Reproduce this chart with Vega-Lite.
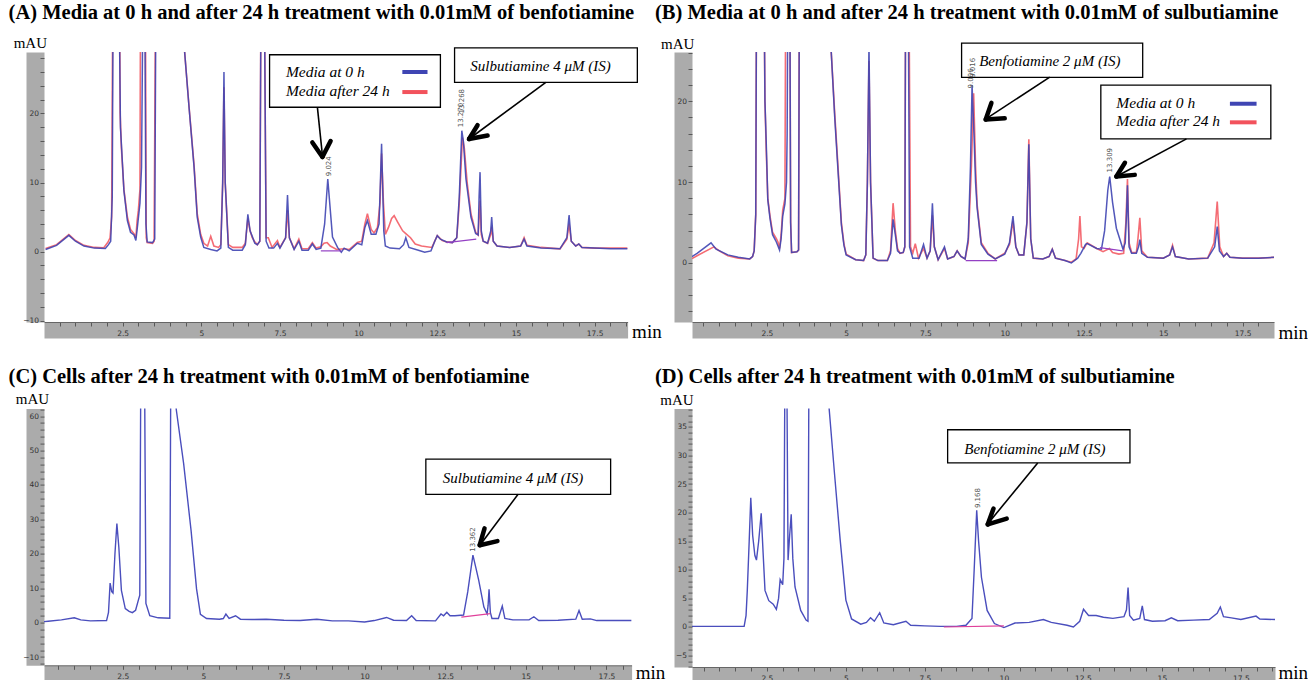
{
"$schema": "https://vega.github.io/schema/vega-lite/v6.json",
"background": "white",
"padding": {"left": 8, "top": 3, "right": 0, "bottom": 0},
"autosize": {"type": "pad"},
"columns": 2,
"bounds": "flush",
"spacing": {"row": 86.6, "column": 60},
"config": {
  "view": {"stroke": null},
  "font": "Liberation Serif",
  "title": {"font": "Liberation Serif", "fontSize": 20.5, "fontWeight": "bold", "anchor": "start", "frame": "group", "color": "#000", "baseline": "alphabetic"},
  "axis": {"labelFont": "DejaVu Sans", "labelFontSize": 7.5, "labelColor": "#333", "tickColor": "#444", "tickWidth": 0.8, "grid": false, "labelOverlap": false, "labelFlush": false, "titleFont": "Liberation Serif", "titleFontWeight": "normal", "titleColor": "#000", "titleAngle": 0, "titleAlign": "left", "titleBaseline": "alphabetic", "titlePadding": 0},
  "axisX": {"titleFontSize": 19, "format": ".1~f", "labelExpr": "datum.value % 2.5 === 0 ? datum.label : ''"},
  "axisY": {"titleFontSize": 15, "format": "d"}
},
"datasets": {
"A": [
{"s":"0h","t":0.05,"v":0.3},{"s":"0h","t":0.4,"v":0.9},{"s":"0h","t":0.79,"v":2.35},{"s":"0h","t":1.0,"v":1.5},{"s":"0h","t":1.27,"v":0.8},{"s":"0h","t":1.6,"v":0.5},{"s":"0h","t":1.95,"v":0.45},{"s":"0h","t":2.05,"v":1.0},{"s":"0h","t":2.12,"v":1.5},{"s":"0h","t":2.17,"v":8},{"s":"0h","t":2.2,"v":40},{"s":"0h","t":2.38,"v":40},{"s":"0h","t":2.43,"v":18},{"s":"0h","t":2.46,"v":15.6},{"s":"0h","t":2.54,"v":8.8},{"s":"0h","t":2.65,"v":4.5},{"s":"0h","t":2.75,"v":2.8},{"s":"0h","t":2.86,"v":2.4},{"s":"0h","t":2.92,"v":1.6},{"s":"0h","t":2.98,"v":4},{"s":"0h","t":3.05,"v":7},{"s":"0h","t":3.1,"v":12.2},{"s":"0h","t":3.15,"v":40},{"s":"0h","t":3.2,"v":40},{"s":"0h","t":3.24,"v":4},{"s":"0h","t":3.28,"v":1.4},{"s":"0h","t":3.45,"v":1.3},{"s":"0h","t":3.52,"v":1.8},{"s":"0h","t":3.56,"v":40},{"s":"0h","t":4.45,"v":40},{"s":"0h","t":4.47,"v":28.9},{"s":"0h","t":4.61,"v":20.9},{"s":"0h","t":4.77,"v":12.2},{"s":"0h","t":4.87,"v":5.0},{"s":"0h","t":4.98,"v":2.1},{"s":"0h","t":5.08,"v":0.6},{"s":"0h","t":5.3,"v":0.3},{"s":"0h","t":5.5,"v":0.1},{"s":"0h","t":5.62,"v":0.5},{"s":"0h","t":5.68,"v":10},{"s":"0h","t":5.72,"v":26},{"s":"0h","t":5.76,"v":10},{"s":"0h","t":5.86,"v":0.6},{"s":"0h","t":6.0,"v":0.2},{"s":"0h","t":6.3,"v":0.2},{"s":"0h","t":6.4,"v":1},{"s":"0h","t":6.48,"v":5.4},{"s":"0h","t":6.55,"v":3},{"s":"0h","t":6.62,"v":2.2},{"s":"0h","t":6.7,"v":1.2},{"s":"0h","t":6.78,"v":1.0},{"s":"0h","t":6.86,"v":1.5},{"s":"0h","t":6.9,"v":40},{"s":"0h","t":7.0,"v":40},{"s":"0h","t":7.06,"v":1.5},{"s":"0h","t":7.15,"v":0.5},{"s":"0h","t":7.3,"v":0.5},{"s":"0h","t":7.42,"v":1.2},{"s":"0h","t":7.5,"v":0.5},{"s":"0h","t":7.68,"v":2},{"s":"0h","t":7.74,"v":8.2},{"s":"0h","t":7.8,"v":2},{"s":"0h","t":7.95,"v":0.3},{"s":"0h","t":8.1,"v":1.5},{"s":"0h","t":8.2,"v":0.2},{"s":"0h","t":8.4,"v":0.2},{"s":"0h","t":8.53,"v":1.1},{"s":"0h","t":8.65,"v":0.3},{"s":"0h","t":8.8,"v":0.5},{"s":"0h","t":8.92,"v":4},{"s":"0h","t":9.02,"v":10.5},{"s":"0h","t":9.1,"v":6},{"s":"0h","t":9.17,"v":2.1},{"s":"0h","t":9.33,"v":0.6},{"s":"0h","t":9.45,"v":-0.1},{"s":"0h","t":9.54,"v":0.5},{"s":"0h","t":9.7,"v":0.1},{"s":"0h","t":9.96,"v":1.2},{"s":"0h","t":10.1,"v":1},{"s":"0h","t":10.2,"v":3.5},{"s":"0h","t":10.28,"v":4.5},{"s":"0h","t":10.4,"v":2.5},{"s":"0h","t":10.55,"v":2.5},{"s":"0h","t":10.65,"v":4},{"s":"0h","t":10.73,"v":15.6},{"s":"0h","t":10.8,"v":3},{"s":"0h","t":10.85,"v":0.8},{"s":"0h","t":11.0,"v":0.5},{"s":"0h","t":11.3,"v":0.4},{"s":"0h","t":11.43,"v":1.0},{"s":"0h","t":11.5,"v":2.0},{"s":"0h","t":11.6,"v":0.6},{"s":"0h","t":11.9,"v":0.2},{"s":"0h","t":12.1,"v":-0.1},{"s":"0h","t":12.3,"v":0.1},{"s":"0h","t":12.42,"v":1.5},{"s":"0h","t":12.5,"v":2.3},{"s":"0h","t":12.6,"v":1.8},{"s":"0h","t":12.8,"v":1.4},{"s":"0h","t":12.98,"v":1.3},{"s":"0h","t":13.12,"v":2},{"s":"0h","t":13.2,"v":8},{"s":"0h","t":13.28,"v":17.5},{"s":"0h","t":13.33,"v":16},{"s":"0h","t":13.41,"v":10.6},{"s":"0h","t":13.57,"v":5.0},{"s":"0h","t":13.72,"v":2.6},{"s":"0h","t":13.8,"v":2.4},{"s":"0h","t":13.83,"v":8},{"s":"0h","t":13.86,"v":11.5},{"s":"0h","t":13.9,"v":3},{"s":"0h","t":13.96,"v":1.5},{"s":"0h","t":14.1,"v":1.2},{"s":"0h","t":14.2,"v":3},{"s":"0h","t":14.23,"v":5.0},{"s":"0h","t":14.28,"v":1.5},{"s":"0h","t":14.4,"v":0.8},{"s":"0h","t":14.8,"v":0.6},{"s":"0h","t":15.15,"v":0.8},{"s":"0h","t":15.26,"v":1.8},{"s":"0h","t":15.35,"v":0.8},{"s":"0h","t":15.8,"v":0.5},{"s":"0h","t":16.4,"v":0.4},{"s":"0h","t":16.62,"v":2},{"s":"0h","t":16.69,"v":5.3},{"s":"0h","t":16.76,"v":1.5},{"s":"0h","t":16.9,"v":0.8},{"s":"0h","t":17.0,"v":1.1},{"s":"0h","t":17.1,"v":0.6},{"s":"0h","t":17.5,"v":0.5},{"s":"0h","t":18.0,"v":0.4},{"s":"0h","t":18.55,"v":0.4},
{"s":"24h","t":0.05,"v":0.45},{"s":"24h","t":0.4,"v":1.0},{"s":"24h","t":0.79,"v":2.45},{"s":"24h","t":1.0,"v":1.6},{"s":"24h","t":1.27,"v":0.9},{"s":"24h","t":1.6,"v":0.6},{"s":"24h","t":1.9,"v":0.55},{"s":"24h","t":2.03,"v":1.35},{"s":"24h","t":2.1,"v":2},{"s":"24h","t":2.15,"v":5},{"s":"24h","t":2.19,"v":40},{"s":"24h","t":2.4,"v":40},{"s":"24h","t":2.42,"v":20},{"s":"24h","t":2.46,"v":15},{"s":"24h","t":2.54,"v":9},{"s":"24h","t":2.65,"v":5},{"s":"24h","t":2.75,"v":3.2},{"s":"24h","t":2.86,"v":2.6},{"s":"24h","t":2.92,"v":2.0},{"s":"24h","t":2.96,"v":4.5},{"s":"24h","t":3.0,"v":6},{"s":"24h","t":3.05,"v":9},{"s":"24h","t":3.07,"v":40},{"s":"24h","t":3.22,"v":40},{"s":"24h","t":3.25,"v":2},{"s":"24h","t":3.28,"v":1.3},{"s":"24h","t":3.45,"v":1.2},{"s":"24h","t":3.5,"v":1.5},{"s":"24h","t":3.55,"v":40},{"s":"24h","t":4.45,"v":40},{"s":"24h","t":4.47,"v":28.9},{"s":"24h","t":4.61,"v":21},{"s":"24h","t":4.77,"v":12.5},{"s":"24h","t":4.87,"v":5.5},{"s":"24h","t":4.98,"v":2.5},{"s":"24h","t":5.08,"v":1.2},{"s":"24h","t":5.2,"v":0.8},{"s":"24h","t":5.3,"v":2.2},{"s":"24h","t":5.4,"v":0.8},{"s":"24h","t":5.55,"v":0.6},{"s":"24h","t":5.62,"v":1},{"s":"24h","t":5.68,"v":10},{"s":"24h","t":5.72,"v":23.8},{"s":"24h","t":5.76,"v":10},{"s":"24h","t":5.86,"v":1},{"s":"24h","t":6.0,"v":0.6},{"s":"24h","t":6.3,"v":0.6},{"s":"24h","t":6.4,"v":1.2},{"s":"24h","t":6.48,"v":4.8},{"s":"24h","t":6.55,"v":3},{"s":"24h","t":6.62,"v":2},{"s":"24h","t":6.7,"v":1.4},{"s":"24h","t":6.78,"v":1},{"s":"24h","t":6.86,"v":1.5},{"s":"24h","t":6.9,"v":40},{"s":"24h","t":7.0,"v":40},{"s":"24h","t":7.06,"v":2},{"s":"24h","t":7.13,"v":2.0},{"s":"24h","t":7.25,"v":0.6},{"s":"24h","t":7.42,"v":1.6},{"s":"24h","t":7.5,"v":0.6},{"s":"24h","t":7.68,"v":2},{"s":"24h","t":7.74,"v":6},{"s":"24h","t":7.8,"v":2},{"s":"24h","t":7.95,"v":0.4},{"s":"24h","t":8.1,"v":1.8},{"s":"24h","t":8.2,"v":0.4},{"s":"24h","t":8.4,"v":0.4},{"s":"24h","t":8.53,"v":1.3},{"s":"24h","t":8.65,"v":0.5},{"s":"24h","t":8.8,"v":0.7},{"s":"24h","t":8.9,"v":1.2},{"s":"24h","t":9.0,"v":1.3},{"s":"24h","t":9.1,"v":0.8},{"s":"24h","t":9.3,"v":0.3},{"s":"24h","t":9.54,"v":0.4},{"s":"24h","t":9.7,"v":0.3},{"s":"24h","t":9.96,"v":1.3},{"s":"24h","t":10.1,"v":1.5},{"s":"24h","t":10.2,"v":4},{"s":"24h","t":10.28,"v":5.5},{"s":"24h","t":10.4,"v":3.2},{"s":"24h","t":10.49,"v":2.7},{"s":"24h","t":10.6,"v":3.5},{"s":"24h","t":10.68,"v":7},{"s":"24h","t":10.73,"v":14.2},{"s":"24h","t":10.79,"v":7},{"s":"24h","t":10.85,"v":2.5},{"s":"24h","t":10.95,"v":3.5},{"s":"24h","t":11.05,"v":4.8},{"s":"24h","t":11.13,"v":5.2},{"s":"24h","t":11.25,"v":4.2},{"s":"24h","t":11.4,"v":3.0},{"s":"24h","t":11.5,"v":2.6},{"s":"24h","t":11.65,"v":2.0},{"s":"24h","t":11.8,"v":1.1},{"s":"24h","t":12.0,"v":0.8},{"s":"24h","t":12.33,"v":0.6},{"s":"24h","t":12.45,"v":1.8},{"s":"24h","t":12.5,"v":2.3},{"s":"24h","t":12.66,"v":1.6},{"s":"24h","t":12.8,"v":1.4},{"s":"24h","t":12.98,"v":1.3},{"s":"24h","t":13.12,"v":2},{"s":"24h","t":13.2,"v":7},{"s":"24h","t":13.3,"v":16.5},{"s":"24h","t":13.36,"v":15},{"s":"24h","t":13.45,"v":10},{"s":"24h","t":13.57,"v":5.5},{"s":"24h","t":13.72,"v":2.8},{"s":"24h","t":13.8,"v":2.4},{"s":"24h","t":13.83,"v":5},{"s":"24h","t":13.86,"v":7.4},{"s":"24h","t":13.9,"v":2.5},{"s":"24h","t":13.96,"v":1.5},{"s":"24h","t":14.1,"v":1.2},{"s":"24h","t":14.2,"v":2.5},{"s":"24h","t":14.23,"v":3.6},{"s":"24h","t":14.28,"v":1.5},{"s":"24h","t":14.4,"v":0.8},{"s":"24h","t":14.8,"v":0.6},{"s":"24h","t":15.15,"v":0.8},{"s":"24h","t":15.26,"v":2.0},{"s":"24h","t":15.35,"v":0.9},{"s":"24h","t":15.8,"v":0.6},{"s":"24h","t":16.4,"v":0.4},{"s":"24h","t":16.62,"v":1.8},{"s":"24h","t":16.69,"v":4.0},{"s":"24h","t":16.76,"v":1.5},{"s":"24h","t":16.9,"v":0.8},{"s":"24h","t":17.0,"v":1.1},{"s":"24h","t":17.1,"v":0.6},{"s":"24h","t":17.5,"v":0.5},{"s":"24h","t":18.0,"v":0.5},{"s":"24h","t":18.55,"v":0.5}
],
"An": [
{"k":"box","t":7.17,"t2":12.6,"v":28.5,"v2":20.9},
{"k":"box","t":13.05,"t2":18.86,"v":29.5,"v2":24.5},
{"k":"btext","t":15.78,"v":26.1,"label":"Sulbutiamine 4 μM (IS)"},
{"k":"ltext","t":7.69,"v":25.25,"label":"Media at 0 h"},
{"k":"ltext","t":7.69,"v":22.6,"label":"Media after 24 h"},
{"k":"samp","s":"0h","t":11.39,"t2":12.19,"v":26.0,"v2":26.0},
{"k":"samp","s":"24h","t":11.39,"t2":12.19,"v":23.1,"v2":23.1},
{"k":"shaft","t":8.69,"v":20.9,"t2":8.85,"v2":13.9},
{"k":"head","t":8.85,"v":13.7,"t2":8.53,"v2":15.8},
{"k":"head","t":8.85,"v":13.7,"t2":9.11,"v2":16.0},
{"k":"shaft","t":15.95,"v":24.5,"t2":13.51,"v2":16.3},
{"k":"head","t":13.51,"v":16.3,"t2":13.78,"v2":18.3},
{"k":"head","t":13.51,"v":16.3,"t2":14.1,"v2":16.8},
{"k":"peak","t":9.05,"v":10.9,"label":"9.024"},
{"k":"peak","t":13.24,"v":18.0,"label":"13.270"},
{"k":"peak","t":13.3,"v":20.0,"label":"13.268"},
{"k":"base","t":8.8,"v":0.1,"t2":9.45,"v2":0.1},
{"k":"base","t":12.8,"v":1.3,"t2":13.74,"v2":1.8}
],
"B": [
{"s":"0h","t":0.14,"v":0.8},{"s":"0h","t":0.3,"v":1.2},{"s":"0h","t":0.74,"v":2.5},{"s":"0h","t":0.9,"v":1.7},{"s":"0h","t":1.27,"v":1.0},{"s":"0h","t":1.6,"v":0.7},{"s":"0h","t":1.96,"v":0.5},{"s":"0h","t":2.05,"v":0.8},{"s":"0h","t":2.1,"v":1.5},{"s":"0h","t":2.15,"v":6},{"s":"0h","t":2.18,"v":40},{"s":"0h","t":2.4,"v":40},{"s":"0h","t":2.44,"v":20},{"s":"0h","t":2.48,"v":15},{"s":"0h","t":2.53,"v":7.8},{"s":"0h","t":2.6,"v":5.5},{"s":"0h","t":2.68,"v":3.5},{"s":"0h","t":2.8,"v":2.6},{"s":"0h","t":2.85,"v":2.1},{"s":"0h","t":2.9,"v":1.6},{"s":"0h","t":2.95,"v":3},{"s":"0h","t":3.0,"v":5.8},{"s":"0h","t":3.07,"v":7.3},{"s":"0h","t":3.12,"v":10},{"s":"0h","t":3.14,"v":16},{"s":"0h","t":3.17,"v":40},{"s":"0h","t":3.22,"v":40},{"s":"0h","t":3.25,"v":5},{"s":"0h","t":3.28,"v":1.3},{"s":"0h","t":3.45,"v":1.4},{"s":"0h","t":3.5,"v":1.6},{"s":"0h","t":3.53,"v":40},{"s":"0h","t":4.5,"v":40},{"s":"0h","t":4.53,"v":26.1},{"s":"0h","t":4.64,"v":18},{"s":"0h","t":4.75,"v":11},{"s":"0h","t":4.85,"v":4.7},{"s":"0h","t":4.93,"v":2.2},{"s":"0h","t":5.0,"v":1.0},{"s":"0h","t":5.3,"v":0.4},{"s":"0h","t":5.55,"v":0.3},{"s":"0h","t":5.62,"v":1},{"s":"0h","t":5.67,"v":10},{"s":"0h","t":5.72,"v":27},{"s":"0h","t":5.77,"v":10},{"s":"0h","t":5.85,"v":0.6},{"s":"0h","t":6.0,"v":0.3},{"s":"0h","t":6.3,"v":0.3},{"s":"0h","t":6.4,"v":1.2},{"s":"0h","t":6.48,"v":5.4},{"s":"0h","t":6.55,"v":3.5},{"s":"0h","t":6.62,"v":1.5},{"s":"0h","t":6.7,"v":1.2},{"s":"0h","t":6.8,"v":1.3},{"s":"0h","t":6.85,"v":2},{"s":"0h","t":6.88,"v":40},{"s":"0h","t":6.95,"v":40},{"s":"0h","t":7.0,"v":2},{"s":"0h","t":7.1,"v":0.6},{"s":"0h","t":7.3,"v":0.6},{"s":"0h","t":7.44,"v":2.3},{"s":"0h","t":7.55,"v":0.6},{"s":"0h","t":7.65,"v":1.5},{"s":"0h","t":7.72,"v":7.4},{"s":"0h","t":7.78,"v":2},{"s":"0h","t":7.9,"v":0.4},{"s":"0h","t":8.1,"v":2.0},{"s":"0h","t":8.2,"v":0.5},{"s":"0h","t":8.4,"v":0.8},{"s":"0h","t":8.5,"v":1.5},{"s":"0h","t":8.62,"v":0.8},{"s":"0h","t":8.75,"v":0.5},{"s":"0h","t":8.85,"v":3},{"s":"0h","t":8.92,"v":12},{"s":"0h","t":8.97,"v":22},{"s":"0h","t":9.03,"v":16},{"s":"0h","t":9.08,"v":10},{"s":"0h","t":9.13,"v":6.8},{"s":"0h","t":9.26,"v":2.3},{"s":"0h","t":9.47,"v":1.1},{"s":"0h","t":9.7,"v":0.5},{"s":"0h","t":10.0,"v":1.1},{"s":"0h","t":10.15,"v":2.5},{"s":"0h","t":10.26,"v":5.8},{"s":"0h","t":10.35,"v":2},{"s":"0h","t":10.45,"v":1.0},{"s":"0h","t":10.6,"v":1.0},{"s":"0h","t":10.7,"v":5},{"s":"0h","t":10.76,"v":14.7},{"s":"0h","t":10.82,"v":3},{"s":"0h","t":10.9,"v":0.6},{"s":"0h","t":11.2,"v":0.5},{"s":"0h","t":11.4,"v":0.8},{"s":"0h","t":11.5,"v":1.7},{"s":"0h","t":11.6,"v":0.6},{"s":"0h","t":11.9,"v":0.3},{"s":"0h","t":12.1,"v":0.0},{"s":"0h","t":12.3,"v":0.6},{"s":"0h","t":12.4,"v":1.2},{"s":"0h","t":12.55,"v":2.3},{"s":"0h","t":12.6,"v":2.4},{"s":"0h","t":12.9,"v":1.8},{"s":"0h","t":13.05,"v":1.7},{"s":"0h","t":13.15,"v":4},{"s":"0h","t":13.25,"v":9},{"s":"0h","t":13.31,"v":10.7},{"s":"0h","t":13.4,"v":7.5},{"s":"0h","t":13.52,"v":4.3},{"s":"0h","t":13.73,"v":1.7},{"s":"0h","t":13.8,"v":2.5},{"s":"0h","t":13.84,"v":6},{"s":"0h","t":13.87,"v":9.6},{"s":"0h","t":13.92,"v":2},{"s":"0h","t":14.0,"v":1.2},{"s":"0h","t":14.15,"v":1.2},{"s":"0h","t":14.22,"v":2},{"s":"0h","t":14.26,"v":2.9},{"s":"0h","t":14.32,"v":1.2},{"s":"0h","t":14.5,"v":0.7},{"s":"0h","t":15.0,"v":0.6},{"s":"0h","t":15.2,"v":1},{"s":"0h","t":15.29,"v":2.0},{"s":"0h","t":15.38,"v":0.8},{"s":"0h","t":15.8,"v":0.5},{"s":"0h","t":16.4,"v":0.6},{"s":"0h","t":16.62,"v":2},{"s":"0h","t":16.7,"v":4.5},{"s":"0h","t":16.77,"v":1.5},{"s":"0h","t":16.9,"v":0.8},{"s":"0h","t":17.0,"v":1.2},{"s":"0h","t":17.1,"v":0.7},{"s":"0h","t":17.5,"v":0.6},{"s":"0h","t":18.0,"v":0.6},{"s":"0h","t":18.49,"v":0.7},
{"s":"24h","t":0.14,"v":0.55},{"s":"24h","t":0.3,"v":0.9},{"s":"24h","t":0.83,"v":2.0},{"s":"24h","t":1.0,"v":1.5},{"s":"24h","t":1.27,"v":0.9},{"s":"24h","t":1.6,"v":0.6},{"s":"24h","t":1.96,"v":0.5},{"s":"24h","t":2.05,"v":0.8},{"s":"24h","t":2.1,"v":1.5},{"s":"24h","t":2.15,"v":6},{"s":"24h","t":2.18,"v":40},{"s":"24h","t":2.4,"v":40},{"s":"24h","t":2.44,"v":20},{"s":"24h","t":2.48,"v":14},{"s":"24h","t":2.53,"v":8},{"s":"24h","t":2.6,"v":5.8},{"s":"24h","t":2.68,"v":3.8},{"s":"24h","t":2.8,"v":3.0},{"s":"24h","t":2.85,"v":2.6},{"s":"24h","t":2.9,"v":1.8},{"s":"24h","t":2.95,"v":3.5},{"s":"24h","t":3.0,"v":6.5},{"s":"24h","t":3.07,"v":8},{"s":"24h","t":3.1,"v":40},{"s":"24h","t":3.22,"v":40},{"s":"24h","t":3.25,"v":5},{"s":"24h","t":3.28,"v":1.3},{"s":"24h","t":3.45,"v":1.4},{"s":"24h","t":3.5,"v":1.6},{"s":"24h","t":3.53,"v":40},{"s":"24h","t":4.5,"v":40},{"s":"24h","t":4.53,"v":26.1},{"s":"24h","t":4.64,"v":18.5},{"s":"24h","t":4.75,"v":11.5},{"s":"24h","t":4.85,"v":5},{"s":"24h","t":4.93,"v":2.4},{"s":"24h","t":5.0,"v":1.1},{"s":"24h","t":5.3,"v":0.4},{"s":"24h","t":5.55,"v":0.3},{"s":"24h","t":5.62,"v":1},{"s":"24h","t":5.67,"v":10},{"s":"24h","t":5.72,"v":25},{"s":"24h","t":5.77,"v":10},{"s":"24h","t":5.85,"v":0.6},{"s":"24h","t":6.0,"v":0.3},{"s":"24h","t":6.3,"v":0.3},{"s":"24h","t":6.4,"v":1.5},{"s":"24h","t":6.48,"v":7.4},{"s":"24h","t":6.55,"v":4},{"s":"24h","t":6.62,"v":1.8},{"s":"24h","t":6.7,"v":1.2},{"s":"24h","t":6.8,"v":1.3},{"s":"24h","t":6.85,"v":2},{"s":"24h","t":6.88,"v":40},{"s":"24h","t":6.97,"v":40},{"s":"24h","t":7.03,"v":2},{"s":"24h","t":7.1,"v":1.2},{"s":"24h","t":7.18,"v":2.4},{"s":"24h","t":7.28,"v":0.6},{"s":"24h","t":7.44,"v":1.8},{"s":"24h","t":7.55,"v":0.6},{"s":"24h","t":7.65,"v":1.5},{"s":"24h","t":7.72,"v":5.9},{"s":"24h","t":7.78,"v":2},{"s":"24h","t":7.9,"v":0.4},{"s":"24h","t":8.1,"v":1.8},{"s":"24h","t":8.2,"v":0.5},{"s":"24h","t":8.4,"v":0.8},{"s":"24h","t":8.5,"v":1.5},{"s":"24h","t":8.62,"v":0.8},{"s":"24h","t":8.75,"v":0.5},{"s":"24h","t":8.85,"v":2.5},{"s":"24h","t":8.95,"v":12},{"s":"24h","t":9.02,"v":21},{"s":"24h","t":9.08,"v":12},{"s":"24h","t":9.13,"v":7.2},{"s":"24h","t":9.26,"v":2.5},{"s":"24h","t":9.47,"v":1.2},{"s":"24h","t":9.7,"v":0.5},{"s":"24h","t":10.0,"v":1.2},{"s":"24h","t":10.15,"v":2.3},{"s":"24h","t":10.26,"v":5.2},{"s":"24h","t":10.35,"v":2},{"s":"24h","t":10.45,"v":1.0},{"s":"24h","t":10.6,"v":1.0},{"s":"24h","t":10.7,"v":5},{"s":"24h","t":10.76,"v":15.3},{"s":"24h","t":10.82,"v":3},{"s":"24h","t":10.9,"v":0.6},{"s":"24h","t":11.2,"v":0.5},{"s":"24h","t":11.4,"v":0.8},{"s":"24h","t":11.5,"v":1.7},{"s":"24h","t":11.6,"v":0.6},{"s":"24h","t":11.9,"v":0.3},{"s":"24h","t":12.1,"v":0.1},{"s":"24h","t":12.25,"v":0.5},{"s":"24h","t":12.33,"v":3},{"s":"24h","t":12.37,"v":5.8},{"s":"24h","t":12.42,"v":2},{"s":"24h","t":12.5,"v":1.8},{"s":"24h","t":12.6,"v":2.5},{"s":"24h","t":12.9,"v":1.8},{"s":"24h","t":13.1,"v":1.4},{"s":"24h","t":13.3,"v":1.8},{"s":"24h","t":13.4,"v":1.3},{"s":"24h","t":13.6,"v":1.1},{"s":"24h","t":13.75,"v":1.2},{"s":"24h","t":13.82,"v":5},{"s":"24h","t":13.87,"v":10.4},{"s":"24h","t":13.92,"v":2.5},{"s":"24h","t":14.0,"v":1.3},{"s":"24h","t":14.15,"v":1.3},{"s":"24h","t":14.2,"v":3},{"s":"24h","t":14.26,"v":5.6},{"s":"24h","t":14.32,"v":1.5},{"s":"24h","t":14.5,"v":0.7},{"s":"24h","t":15.0,"v":0.6},{"s":"24h","t":15.2,"v":1},{"s":"24h","t":15.29,"v":2.2},{"s":"24h","t":15.38,"v":0.8},{"s":"24h","t":15.8,"v":0.5},{"s":"24h","t":16.4,"v":0.6},{"s":"24h","t":16.6,"v":2.5},{"s":"24h","t":16.7,"v":7.6},{"s":"24h","t":16.78,"v":2},{"s":"24h","t":16.9,"v":0.8},{"s":"24h","t":17.0,"v":1.2},{"s":"24h","t":17.1,"v":0.7},{"s":"24h","t":17.5,"v":0.6},{"s":"24h","t":18.0,"v":0.6},{"s":"24h","t":18.49,"v":0.7}
],
"Bn": [
{"k":"box","t":8.64,"t2":14.35,"v":27.2,"v2":22.97},
{"k":"btext","t":11.42,"v":24.35,"label":"Benfotiamine 2 μM (IS)"},
{"k":"box","t":13.03,"t2":18.39,"v":22.0,"v2":15.35},
{"k":"ltext","t":13.52,"v":19.2,"label":"Media at 0 h"},
{"k":"ltext","t":13.52,"v":17.0,"label":"Media after 24 h"},
{"k":"samp","s":"0h","t":17.1,"t2":17.94,"v":19.7,"v2":19.7},
{"k":"samp","s":"24h","t":17.1,"t2":17.94,"v":17.4,"v2":17.4},
{"k":"shaft","t":11.42,"v":23.0,"t2":9.42,"v2":17.85},
{"k":"head","t":9.4,"v":17.75,"t2":9.58,"v2":19.8},
{"k":"head","t":9.4,"v":17.75,"t2":10.0,"v2":17.9},
{"k":"shaft","t":15.73,"v":15.35,"t2":13.52,"v2":10.7},
{"k":"head","t":13.52,"v":10.7,"t2":13.79,"v2":12.4},
{"k":"head","t":13.52,"v":10.7,"t2":14.1,"v2":10.9},
{"k":"peak","t":8.95,"v":21.6,"label":"9.006"},
{"k":"peak","t":8.99,"v":22.9,"label":"9.016"},
{"k":"peak","t":13.32,"v":11.2,"label":"13.309"},
{"k":"base","t":8.77,"v":0.3,"t2":9.76,"v2":0.3},
{"k":"base","t":13.0,"v":1.9,"t2":13.72,"v2":1.5}
],
"C": [
{"t":0.06,"v":0.3},{"t":0.19,"v":0.4},{"t":0.6,"v":0.8},{"t":1.0,"v":1.4},{"t":1.2,"v":0.8},{"t":1.5,"v":0.5},{"t":2.0,"v":0.6},{"t":2.06,"v":3},{"t":2.11,"v":11.5},{"t":2.16,"v":9},{"t":2.2,"v":8.6},{"t":2.26,"v":20},{"t":2.32,"v":28.8},{"t":2.38,"v":22},{"t":2.46,"v":9.4},{"t":2.58,"v":4.1},{"t":2.7,"v":3.3},{"t":2.8,"v":2.9},{"t":2.9,"v":3.6},{"t":2.99,"v":6.7},{"t":3.03,"v":8},{"t":3.06,"v":70},{"t":3.18,"v":70},{"t":3.22,"v":5.6},{"t":3.34,"v":2.0},{"t":3.6,"v":1.4},{"t":3.96,"v":1.3},{"t":3.99,"v":70},{"t":4.14,"v":70},{"t":4.16,"v":62},{"t":4.39,"v":46.2},{"t":4.62,"v":26.8},{"t":4.79,"v":9.8},{"t":4.91,"v":2.4},{"t":5.1,"v":1.2},{"t":5.5,"v":1.0},{"t":5.62,"v":1.2},{"t":5.7,"v":2.5},{"t":5.8,"v":1.2},{"t":6.0,"v":2.0},{"t":6.15,"v":1.0},{"t":6.5,"v":0.9},{"t":6.95,"v":1.0},{"t":7.5,"v":0.7},{"t":8.0,"v":0.6},{"t":8.52,"v":1.0},{"t":9.0,"v":0.5},{"t":9.5,"v":0.5},{"t":10.0,"v":0.2},{"t":10.3,"v":0.6},{"t":10.68,"v":1.5},{"t":10.9,"v":0.7},{"t":11.3,"v":0.6},{"t":11.46,"v":2.0},{"t":11.6,"v":0.6},{"t":12.2,"v":0.5},{"t":12.37,"v":2.5},{"t":12.45,"v":2.0},{"t":12.55,"v":3.0},{"t":12.65,"v":2.0},{"t":12.8,"v":2.0},{"t":13.07,"v":2.2},{"t":13.2,"v":9},{"t":13.36,"v":19.6},{"t":13.45,"v":16},{"t":13.54,"v":12.3},{"t":13.7,"v":4.5},{"t":13.8,"v":2.5},{"t":13.83,"v":5},{"t":13.86,"v":9.7},{"t":13.9,"v":3},{"t":13.95,"v":1.2},{"t":14.15,"v":1.2},{"t":14.27,"v":4.8},{"t":14.35,"v":1.2},{"t":14.6,"v":0.8},{"t":15.1,"v":0.8},{"t":15.25,"v":1.7},{"t":15.4,"v":0.6},{"t":16.0,"v":0.7},{"t":16.55,"v":1.0},{"t":16.65,"v":3.5},{"t":16.75,"v":1.0},{"t":17.0,"v":1.1},{"t":17.2,"v":0.6},{"t":17.8,"v":0.6},{"t":18.28,"v":0.6}
],
"Cn": [
{"k":"box","t":11.9,"t2":17.63,"v":47.5,"v2":37.3},
{"k":"btext","t":14.6,"v":40.5,"label":"Sulbutiamine 4 μM (IS)"},
{"k":"shaft","t":14.76,"v":37.3,"t2":13.6,"v2":22.8},
{"k":"head","t":13.57,"v":22.5,"t2":13.72,"v2":27.4},
{"k":"head","t":13.57,"v":22.5,"t2":14.12,"v2":23.7},
{"k":"peak","t":13.37,"v":20.6,"label":"13.362"},
{"k":"base","t":13.0,"v":1.6,"t2":13.9,"v2":2.6}
],
"D": [
{"t":0.13,"v":0.1},{"t":1.0,"v":0.1},{"t":1.78,"v":0.1},{"t":1.84,"v":2},{"t":1.88,"v":6.4},{"t":1.94,"v":15},{"t":1.99,"v":22.6},{"t":2.05,"v":16},{"t":2.12,"v":12.5},{"t":2.17,"v":11.7},{"t":2.24,"v":15},{"t":2.32,"v":19.9},{"t":2.38,"v":13},{"t":2.44,"v":6.4},{"t":2.56,"v":4.6},{"t":2.7,"v":4.0},{"t":2.8,"v":3.1},{"t":2.87,"v":5},{"t":2.92,"v":8.3},{"t":3.0,"v":7.4},{"t":3.04,"v":12},{"t":3.07,"v":45},{"t":3.13,"v":45},{"t":3.17,"v":11.7},{"t":3.22,"v":16},{"t":3.27,"v":19.7},{"t":3.32,"v":12},{"t":3.39,"v":7.0},{"t":3.57,"v":2.9},{"t":3.74,"v":1.2},{"t":3.8,"v":1.0},{"t":3.83,"v":45},{"t":4.45,"v":45},{"t":4.47,"v":38.2},{"t":4.64,"v":26.8},{"t":4.82,"v":15.2},{"t":5.0,"v":4.7},{"t":5.18,"v":1.4},{"t":5.47,"v":0.5},{"t":5.65,"v":0.8},{"t":5.78,"v":1.6},{"t":5.9,"v":1.0},{"t":6.07,"v":2.5},{"t":6.2,"v":0.7},{"t":6.5,"v":0.4},{"t":6.9,"v":1.0},{"t":7.05,"v":0.3},{"t":7.5,"v":0.2},{"t":8.0,"v":0.1},{"t":8.5,"v":0.1},{"t":8.8,"v":0.3},{"t":8.99,"v":1.5},{"t":9.06,"v":10},{"t":9.14,"v":20.4},{"t":9.2,"v":15},{"t":9.29,"v":8.7},{"t":9.47,"v":2.9},{"t":9.7,"v":0.6},{"t":10.0,"v":-0.1},{"t":10.35,"v":0.7},{"t":10.8,"v":0.8},{"t":11.25,"v":1.3},{"t":11.5,"v":0.8},{"t":12.0,"v":0.3},{"t":12.2,"v":0.0},{"t":12.4,"v":1.0},{"t":12.52,"v":3.1},{"t":12.68,"v":2.0},{"t":12.92,"v":2.0},{"t":13.15,"v":1.7},{"t":13.45,"v":1.5},{"t":13.8,"v":1.8},{"t":13.88,"v":3},{"t":13.93,"v":6.9},{"t":13.98,"v":2},{"t":14.1,"v":1.2},{"t":14.3,"v":1.5},{"t":14.38,"v":3.7},{"t":14.45,"v":1.3},{"t":14.7,"v":1.0},{"t":15.1,"v":1.1},{"t":15.3,"v":1.6},{"t":15.5,"v":1.1},{"t":16.0,"v":1.2},{"t":16.5,"v":1.3},{"t":16.75,"v":2.4},{"t":16.85,"v":3.5},{"t":16.95,"v":1.8},{"t":17.2,"v":1.6},{"t":17.5,"v":1.3},{"t":17.98,"v":1.9},{"t":18.1,"v":1.4},{"t":18.58,"v":1.3}
],
"Dn": [
{"k":"box","t":8.22,"t2":13.99,"v":34.5,"v2":28.7},
{"k":"btext","t":10.98,"v":30.3,"label":"Benfotiamine 2 μM (IS)"},
{"k":"shaft","t":11.07,"v":28.7,"t2":9.5,"v2":18.1},
{"k":"head","t":9.49,"v":17.95,"t2":9.67,"v2":20.7},
{"k":"head","t":9.49,"v":17.95,"t2":10.09,"v2":18.95},
{"k":"peak","t":9.17,"v":20.8,"label":"9.168"},
{"k":"base","t":8.1,"v":0.0,"t2":10.0,"v2":0.2}
]
},
"concat": [
{
  "width": 583.6, "height": 270,
  "title": {"text": "(A) Media at 0 h and after 24 h treatment with 0.01mM of benfotiamine", "dx": -35.4, "offset": 12},
  "resolve": {"axis": {"x": "independent", "y": "independent"}},
  "encoding": {
    "x": {"field": "t", "type": "quantitative", "scale": {"domain": [0, 18.55], "nice": false, "zero": false}, "axis": null},
    "y": {"field": "v", "type": "quantitative", "scale": {"domain": [-10.2, 28.9], "nice": false, "zero": false}, "axis": null}
  },
  "layer": [
    {"data": {"name": "A"}, "transform": [{"filter": "datum.s === '24h'"}], "mark": {"type": "line", "clip": true, "strokeWidth": 1.6, "opacity": 0.85},
     "encoding": {
       "x": {"field": "t", "type": "quantitative", "scale": {"domain": [0, 18.55], "nice": false, "zero": false}, "axis": {"orient": "bottom", "offset": 8, "domainWidth": 16, "domainColor": "#ababab", "ticks": false, "labels": false, "title": null}},
       "y": {"field": "v", "type": "quantitative", "scale": {"domain": [-10.2, 28.9], "nice": false, "zero": false}, "axis": {"orient": "left", "offset": 9, "domainWidth": 18, "domainColor": "#ababab", "ticks": false, "labels": false, "title": null}},
       "color": {"field": "s", "type": "nominal", "scale": {"domain": ["0h", "24h"], "range": ["#3f45b3", "#f2525c"]}, "legend": null}}},
    {"data": {"name": "A"}, "transform": [{"filter": "datum.s === '0h'"}], "mark": {"type": "line", "clip": true, "strokeWidth": 1.5, "opacity": 0.9},
     "encoding": {
       "x": {"field": "t", "type": "quantitative", "scale": {"domain": [0, 18.55], "nice": false, "zero": false}, "axis": {"orient": "bottom", "offset": 0, "zindex": 1, "domain": true, "domainWidth": 1, "domainColor": "#666", "tickSize": 4, "labelPadding": 3, "title": "min", "titleX": 587.6, "titleY": 15.3, "values": [0.5,1,1.5,2,2.5,3,3.5,4,4.5,5,5.5,6,6.5,7,7.5,8,8.5,9,9.5,10,10.5,11,11.5,12,12.5,13,13.5,14,14.5,15,15.5,16,16.5,17,17.5,18,18.5]}},
       "y": {"field": "v", "type": "quantitative", "scale": {"domain": [-10.2, 28.9], "nice": false, "zero": false}, "axis": {"orient": "left", "offset": 0, "zindex": 1, "domain": false, "tickSize": 4, "labelPadding": 1.5, "title": "mAU", "titleX": -30.8, "titleY": -4.4, "values": [-10,-8,-6,-4,-2,0,2,4,6,8,10,12,14,16,18,20,22,24,26,28], "labelExpr": "datum.value % 10 === 0 ? datum.label : ''"}},
       "color": {"field": "s", "type": "nominal", "scale": {"domain": ["0h", "24h"], "range": ["#3f45b3", "#f2525c"]}, "legend": null}}},
    {"data": {"name": "An"}, "transform": [{"filter": "datum.k === 'base'"}], "mark": {"type": "rule", "color": "#9440c4", "strokeWidth": 1.2}, "encoding": {"x2": {"field": "t2"}, "y2": {"field": "v2"}}},
    {"data": {"name": "An"}, "transform": [{"filter": "datum.k === 'box'"}], "mark": {"type": "rect", "fill": "white", "stroke": "black", "strokeWidth": 1.3}, "encoding": {"x2": {"field": "t2"}, "y2": {"field": "v2"}}},
    {"data": {"name": "An"}, "transform": [{"filter": "datum.k === 'peak'"}], "mark": {"type": "text", "angle": 270, "align": "left", "baseline": "middle", "font": "DejaVu Sans", "fontSize": 7, "color": "#555"}, "encoding": {"text": {"field": "label"}}},
    {"data": {"name": "An"}, "transform": [{"filter": "datum.k === 'btext'"}], "mark": {"type": "text", "align": "center", "baseline": "alphabetic", "font": "Liberation Serif", "fontStyle": "italic", "fontSize": 15, "color": "#000"}, "encoding": {"text": {"field": "label"}}},
    {"data": {"name": "An"}, "transform": [{"filter": "datum.k === 'ltext'"}], "mark": {"type": "text", "align": "left", "baseline": "alphabetic", "font": "Liberation Serif", "fontStyle": "italic", "fontSize": 15.5, "color": "#000"}, "encoding": {"text": {"field": "label"}}},
    {"data": {"name": "An"}, "transform": [{"filter": "datum.k === 'samp'"}], "mark": {"type": "rule", "strokeWidth": 4}, "encoding": {"x2": {"field": "t2"}, "y2": {"field": "v2"}, "color": {"field": "s", "type": "nominal", "scale": {"domain": ["0h", "24h"], "range": ["#3f45b3", "#f2525c"]}, "legend": null}}},
    {"data": {"name": "An"}, "transform": [{"filter": "datum.k === 'shaft'"}], "mark": {"type": "rule", "color": "black", "strokeWidth": 1.6}, "encoding": {"x2": {"field": "t2"}, "y2": {"field": "v2"}}},
    {"data": {"name": "An"}, "transform": [{"filter": "datum.k === 'head'"}], "mark": {"type": "rule", "color": "black", "strokeWidth": 4.5, "strokeCap": "round"}, "encoding": {"x2": {"field": "t2"}, "y2": {"field": "v2"}}}
  ]
},
{
  "width": 582, "height": 270,
  "title": {"text": "(B) Media at 0 h and after 24 h treatment with 0.01mM of sulbutiamine", "dx": -37, "offset": 13},
  "resolve": {"axis": {"x": "independent", "y": "independent"}},
  "encoding": {
    "x": {"field": "t", "type": "quantitative", "scale": {"domain": [0.14, 18.49], "nice": false, "zero": false}, "axis": null},
    "y": {"field": "v", "type": "quantitative", "scale": {"domain": [-7.3, 26.1], "nice": false, "zero": false}, "axis": null}
  },
  "layer": [
    {"data": {"name": "B"}, "transform": [{"filter": "datum.s === '24h'"}], "mark": {"type": "line", "clip": true, "strokeWidth": 1.6, "opacity": 0.85},
     "encoding": {
       "x": {"field": "t", "type": "quantitative", "scale": {"domain": [0.14, 18.49], "nice": false, "zero": false}, "axis": {"orient": "bottom", "offset": 8, "domainWidth": 16, "domainColor": "#ababab", "ticks": false, "labels": false, "title": null}},
       "y": {"field": "v", "type": "quantitative", "scale": {"domain": [-7.3, 26.1], "nice": false, "zero": false}, "axis": {"orient": "left", "offset": 9, "domainWidth": 18, "domainColor": "#ababab", "ticks": false, "labels": false, "title": null}},
       "color": {"field": "s", "type": "nominal", "scale": {"domain": ["0h", "24h"], "range": ["#3f45b3", "#f2525c"]}, "legend": null}}},
    {"data": {"name": "B"}, "transform": [{"filter": "datum.s === '0h'"}], "mark": {"type": "line", "clip": true, "strokeWidth": 1.5, "opacity": 0.9},
     "encoding": {
       "x": {"field": "t", "type": "quantitative", "scale": {"domain": [0.14, 18.49], "nice": false, "zero": false}, "axis": {"orient": "bottom", "offset": 0, "zindex": 1, "domain": true, "domainWidth": 1, "domainColor": "#666", "tickSize": 4, "labelPadding": 3, "title": "min", "titleX": 586, "titleY": 16, "values": [0.5,1,1.5,2,2.5,3,3.5,4,4.5,5,5.5,6,6.5,7,7.5,8,8.5,9,9.5,10,10.5,11,11.5,12,12.5,13,13.5,14,14.5,15,15.5,16,16.5,17,17.5,18]}},
       "y": {"field": "v", "type": "quantitative", "scale": {"domain": [-7.3, 26.1], "nice": false, "zero": false}, "axis": {"orient": "left", "offset": 0, "zindex": 1, "domain": false, "tickSize": 4, "labelPadding": 1.5, "title": "mAU", "titleX": -31.4, "titleY": -3.4, "values": [-6,-4,-2,0,2,4,6,8,10,12,14,16,18,20,22,24,26], "labelExpr": "datum.value % 10 === 0 ? datum.label : ''"}},
       "color": {"field": "s", "type": "nominal", "scale": {"domain": ["0h", "24h"], "range": ["#3f45b3", "#f2525c"]}, "legend": null}}},
    {"data": {"name": "Bn"}, "transform": [{"filter": "datum.k === 'base'"}], "mark": {"type": "rule", "color": "#9440c4", "strokeWidth": 1.2}, "encoding": {"x2": {"field": "t2"}, "y2": {"field": "v2"}}},
    {"data": {"name": "Bn"}, "transform": [{"filter": "datum.k === 'box'"}], "mark": {"type": "rect", "fill": "white", "stroke": "black", "strokeWidth": 1.3}, "encoding": {"x2": {"field": "t2"}, "y2": {"field": "v2"}}},
    {"data": {"name": "Bn"}, "transform": [{"filter": "datum.k === 'peak'"}], "mark": {"type": "text", "angle": 270, "align": "left", "baseline": "middle", "font": "DejaVu Sans", "fontSize": 7, "color": "#555"}, "encoding": {"text": {"field": "label"}}},
    {"data": {"name": "Bn"}, "transform": [{"filter": "datum.k === 'btext'"}], "mark": {"type": "text", "align": "center", "baseline": "alphabetic", "font": "Liberation Serif", "fontStyle": "italic", "fontSize": 15, "color": "#000"}, "encoding": {"text": {"field": "label"}}},
    {"data": {"name": "Bn"}, "transform": [{"filter": "datum.k === 'ltext'"}], "mark": {"type": "text", "align": "left", "baseline": "alphabetic", "font": "Liberation Serif", "fontStyle": "italic", "fontSize": 15.5, "color": "#000"}, "encoding": {"text": {"field": "label"}}},
    {"data": {"name": "Bn"}, "transform": [{"filter": "datum.k === 'samp'"}], "mark": {"type": "rule", "strokeWidth": 4}, "encoding": {"x2": {"field": "t2"}, "y2": {"field": "v2"}, "color": {"field": "s", "type": "nominal", "scale": {"domain": ["0h", "24h"], "range": ["#3f45b3", "#f2525c"]}, "legend": null}}},
    {"data": {"name": "Bn"}, "transform": [{"filter": "datum.k === 'shaft'"}], "mark": {"type": "rule", "color": "black", "strokeWidth": 1.6}, "encoding": {"x2": {"field": "t2"}, "y2": {"field": "v2"}}},
    {"data": {"name": "Bn"}, "transform": [{"filter": "datum.k === 'head'"}], "mark": {"type": "rule", "color": "black", "strokeWidth": 4.5, "strokeCap": "round"}, "encoding": {"x2": {"field": "t2"}, "y2": {"field": "v2"}}}
  ]
},
{
  "width": 587.6, "height": 256.7,
  "title": {"text": "(C) Cells after 24 h treatment with 0.01mM of benfotiamine", "dx": -35.4, "offset": 3.5},
  "resolve": {"axis": {"x": "independent", "y": "independent"}},
  "encoding": {
    "x": {"field": "t", "type": "quantitative", "scale": {"domain": [0.06, 18.28], "nice": false, "zero": false}, "axis": null},
    "y": {"field": "v", "type": "quantitative", "scale": {"domain": [-12.4, 62.2], "nice": false, "zero": false}, "axis": null}
  },
  "layer": [
    {"data": {"name": "C"}, "mark": {"type": "line", "clip": true, "strokeWidth": 1.4, "color": "#4a4ebd"},
     "encoding": {
       "x": {"field": "t", "type": "quantitative", "scale": {"domain": [0.06, 18.28], "nice": false, "zero": false}, "axis": {"orient": "bottom", "offset": 8, "domainWidth": 16, "domainColor": "#ababab", "ticks": false, "labels": false, "title": null}},
       "y": {"field": "v", "type": "quantitative", "scale": {"domain": [-12.4, 62.2], "nice": false, "zero": false}, "axis": {"orient": "left", "offset": 9, "domainWidth": 18, "domainColor": "#ababab", "ticks": false, "labels": false, "title": null}}}},
    {"data": {"name": "Cn"}, "transform": [{"filter": "datum.k === 'base'"}], "mark": {"type": "rule", "color": "#e0409a", "strokeWidth": 1.2},
     "encoding": {
       "x": {"field": "t", "type": "quantitative", "scale": {"domain": [0.06, 18.28], "nice": false, "zero": false}, "axis": {"orient": "bottom", "offset": 0, "zindex": 1, "domain": true, "domainWidth": 1, "domainColor": "#666", "tickSize": 4, "labelPadding": 3, "title": "min", "titleX": 591.3, "titleY": 12.7, "values": [0.5,1,1.5,2,2.5,3,3.5,4,4.5,5,5.5,6,6.5,7,7.5,8,8.5,9,9.5,10,10.5,11,11.5,12,12.5,13,13.5,14,14.5,15,15.5,16,16.5,17,17.5,18]}},
       "y": {"field": "v", "type": "quantitative", "scale": {"domain": [-12.4, 62.2], "nice": false, "zero": false}, "axis": {"orient": "left", "offset": 0, "zindex": 1, "domain": false, "tickSize": 4, "labelPadding": 1.5, "title": "mAU", "titleX": -28.7, "titleY": -5.6, "values": [-12,-10,-8,-6,-4,-2,0,2,4,6,8,10,12,14,16,18,20,22,24,26,28,30,32,34,36,38,40,42,44,46,48,50,52,54,56,58,60,62], "labelExpr": "datum.value % 10 === 0 ? datum.label : ''"}},
       "x2": {"field": "t2"}, "y2": {"field": "v2"}}},
    {"data": {"name": "Cn"}, "transform": [{"filter": "datum.k === 'box'"}], "mark": {"type": "rect", "fill": "white", "stroke": "black", "strokeWidth": 1.3}, "encoding": {"x2": {"field": "t2"}, "y2": {"field": "v2"}}},
    {"data": {"name": "Cn"}, "transform": [{"filter": "datum.k === 'peak'"}], "mark": {"type": "text", "angle": 270, "align": "left", "baseline": "middle", "font": "DejaVu Sans", "fontSize": 7, "color": "#555"}, "encoding": {"text": {"field": "label"}}},
    {"data": {"name": "Cn"}, "transform": [{"filter": "datum.k === 'btext'"}], "mark": {"type": "text", "align": "center", "baseline": "alphabetic", "font": "Liberation Serif", "fontStyle": "italic", "fontSize": 15, "color": "#000"}, "encoding": {"text": {"field": "label"}}},
    {"data": {"name": "Cn"}, "transform": [{"filter": "datum.k === 'shaft'"}], "mark": {"type": "rule", "color": "black", "strokeWidth": 1.6}, "encoding": {"x2": {"field": "t2"}, "y2": {"field": "v2"}}},
    {"data": {"name": "Cn"}, "transform": [{"filter": "datum.k === 'head'"}], "mark": {"type": "rule", "color": "black", "strokeWidth": 4.5, "strokeCap": "round"}, "encoding": {"x2": {"field": "t2"}, "y2": {"field": "v2"}}}
  ]
},
{
  "width": 583, "height": 258.4,
  "title": {"text": "(D) Cells after 24 h treatment with 0.01mM of sulbutiamine", "dx": -37, "offset": 4.5},
  "resolve": {"axis": {"x": "independent", "y": "independent"}},
  "encoding": {
    "x": {"field": "t", "type": "quantitative", "scale": {"domain": [0.13, 18.58], "nice": false, "zero": false}, "axis": null},
    "y": {"field": "v", "type": "quantitative", "scale": {"domain": [-7.0, 38.2], "nice": false, "zero": false}, "axis": null}
  },
  "layer": [
    {"data": {"name": "D"}, "mark": {"type": "line", "clip": true, "strokeWidth": 1.4, "color": "#4a4ebd"},
     "encoding": {
       "x": {"field": "t", "type": "quantitative", "scale": {"domain": [0.13, 18.58], "nice": false, "zero": false}, "axis": {"orient": "bottom", "offset": 8, "domainWidth": 16, "domainColor": "#ababab", "ticks": false, "labels": false, "title": null}},
       "y": {"field": "v", "type": "quantitative", "scale": {"domain": [-7.0, 38.2], "nice": false, "zero": false}, "axis": {"orient": "left", "offset": 9, "domainWidth": 18, "domainColor": "#ababab", "ticks": false, "labels": false, "title": null}}}},
    {"data": {"name": "Dn"}, "transform": [{"filter": "datum.k === 'base'"}], "mark": {"type": "rule", "color": "#e0409a", "strokeWidth": 1.2},
     "encoding": {
       "x": {"field": "t", "type": "quantitative", "scale": {"domain": [0.13, 18.58], "nice": false, "zero": false}, "axis": {"orient": "bottom", "offset": 0, "zindex": 1, "domain": true, "domainWidth": 1, "domainColor": "#666", "tickSize": 4, "labelPadding": 3, "title": "min", "titleX": 586, "titleY": 11, "values": [0.5,1,1.5,2,2.5,3,3.5,4,4.5,5,5.5,6,6.5,7,7.5,8,8.5,9,9.5,10,10.5,11,11.5,12,12.5,13,13.5,14,14.5,15,15.5,16,16.5,17,17.5,18,18.5]}},
       "y": {"field": "v", "type": "quantitative", "scale": {"domain": [-7.0, 38.2], "nice": false, "zero": false}, "axis": {"orient": "left", "offset": 0, "zindex": 1, "domain": false, "tickSize": 4, "labelPadding": 1.5, "title": "mAU", "titleX": -32.2, "titleY": -4.3, "values": [-7,-6,-5,-4,-3,-2,-1,0,1,2,3,4,5,6,7,8,9,10,11,12,13,14,15,16,17,18,19,20,21,22,23,24,25,26,27,28,29,30,31,32,33,34,35,36,37,38], "labelExpr": "datum.value % 5 === 0 ? datum.label : ''"}},
       "x2": {"field": "t2"}, "y2": {"field": "v2"}}},
    {"data": {"name": "Dn"}, "transform": [{"filter": "datum.k === 'box'"}], "mark": {"type": "rect", "fill": "white", "stroke": "black", "strokeWidth": 1.3}, "encoding": {"x2": {"field": "t2"}, "y2": {"field": "v2"}}},
    {"data": {"name": "Dn"}, "transform": [{"filter": "datum.k === 'peak'"}], "mark": {"type": "text", "angle": 270, "align": "left", "baseline": "middle", "font": "DejaVu Sans", "fontSize": 7, "color": "#555"}, "encoding": {"text": {"field": "label"}}},
    {"data": {"name": "Dn"}, "transform": [{"filter": "datum.k === 'btext'"}], "mark": {"type": "text", "align": "center", "baseline": "alphabetic", "font": "Liberation Serif", "fontStyle": "italic", "fontSize": 15, "color": "#000"}, "encoding": {"text": {"field": "label"}}},
    {"data": {"name": "Dn"}, "transform": [{"filter": "datum.k === 'shaft'"}], "mark": {"type": "rule", "color": "black", "strokeWidth": 1.6}, "encoding": {"x2": {"field": "t2"}, "y2": {"field": "v2"}}},
    {"data": {"name": "Dn"}, "transform": [{"filter": "datum.k === 'head'"}], "mark": {"type": "rule", "color": "black", "strokeWidth": 4.5, "strokeCap": "round"}, "encoding": {"x2": {"field": "t2"}, "y2": {"field": "v2"}}}
  ]
}
]
}
